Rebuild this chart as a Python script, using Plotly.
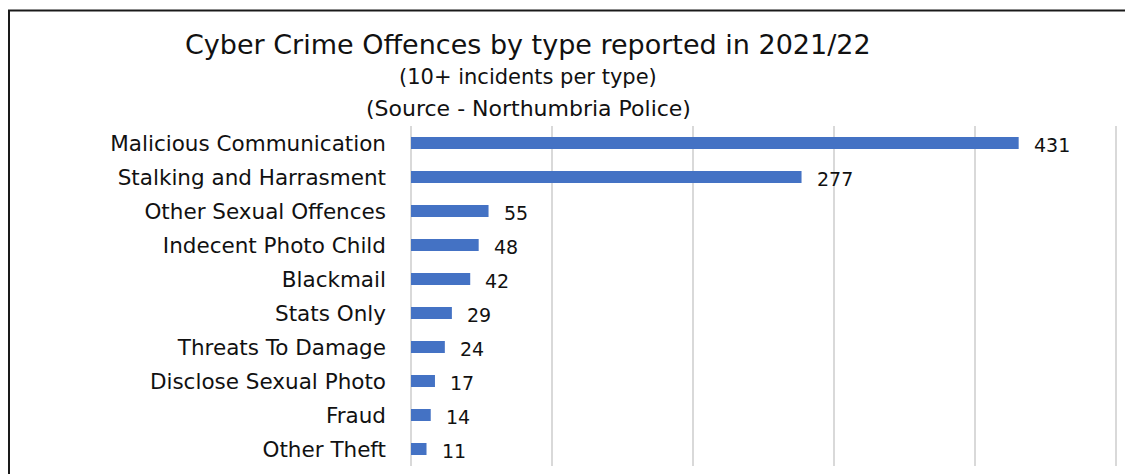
import plotly.graph_objects as go

categories = [
    "Malicious Communication",
    "Stalking and Harrasment",
    "Other Sexual Offences",
    "Indecent Photo Child",
    "Blackmail",
    "Stats Only",
    "Threats To Damage",
    "Disclose Sexual Photo",
    "Fraud",
    "Other Theft",
]
values = [431, 277, 55, 48, 42, 29, 24, 17, 14, 11]
title_lines = [
    "Cyber Crime Offences by type reported in 2021/22",
    "(10+ incidents per type)",
    "(Source - Northumbria Police)",
]

FONT = "DejaVu Sans"
OFF = 8  # default page body margin
W, H = 1133 - OFF, 474 - OFF
# target page-pixel positions
PLOT_L, PLOT_R, PLOT_T, PLOT_B = 411, 1123, 126, 466
ML = PLOT_L - OFF
MR = 1133 - PLOT_R
MT = PLOT_T - OFF
MB = 474 - PLOT_B
PW, PH = W - ML - MR, H - MT - MB


def px_to_paper_x(px):
    return (px - PLOT_L) / PW


def px_to_paper_y(py):
    return (PLOT_B - py) / PH


fig = go.Figure(
    go.Bar(
        x=values,
        y=categories,
        orientation="h",
        marker=dict(color="#4472C4", line=dict(width=0)),
        hoverinfo="x+y",
    )
)

annotations = []
for v, c in zip(values, categories):
    annotations.append(
        dict(
            x=v, y=c, xref="x", yref="y", text=str(v), showarrow=False,
            xanchor="left", yanchor="middle", xshift=13, yshift=-2,
            font=dict(family=FONT, size=19, color="#111111"),
        )
    )

title_specs = [(title_lines[0], 45, 27), (title_lines[1], 77, 21), (title_lines[2], 109, 22)]
for txt, py, size in title_specs:
    annotations.append(
        dict(
            x=px_to_paper_x(528), y=px_to_paper_y(py), xref="paper", yref="paper",
            text=txt, showarrow=False, xanchor="center", yanchor="middle",
            font=dict(family=FONT, size=size, color="#111111"),
        )
    )

fig.update_layout(
    width=W, height=H,
    margin=dict(l=ML, r=MR, t=MT, b=MB, pad=0),
    paper_bgcolor="white", plot_bgcolor="white",
    showlegend=False,
    bargap=0.647,
    font=dict(family=FONT, size=21, color="#111111"),
    annotations=annotations,
    shapes=[
        dict(
            type="rect", xref="paper", yref="paper",
            x0=px_to_paper_x(9), x1=px_to_paper_x(1145),
            y0=px_to_paper_y(490), y1=px_to_paper_y(10.5),
            line=dict(color="#1a1a1a", width=2), fillcolor="rgba(0,0,0,0)",
            layer="above",
        )
    ],
    xaxis=dict(
        range=[0, 505], dtick=100, tick0=0,
        showgrid=True, gridcolor="#d9d9d9", gridwidth=1.5,
        zeroline=True, zerolinecolor="#d9d9d9", zerolinewidth=1.5,
        showticklabels=False, ticks="", showline=False, fixedrange=True,
    ),
    yaxis=dict(
        autorange="reversed", showgrid=False, showline=False, ticks="",
        ticklabelstandoff=24,
        tickfont=dict(family=FONT, size=21.5, color="#111111"),
        fixedrange=True,
    ),
)

fig.write_html("out.html")
